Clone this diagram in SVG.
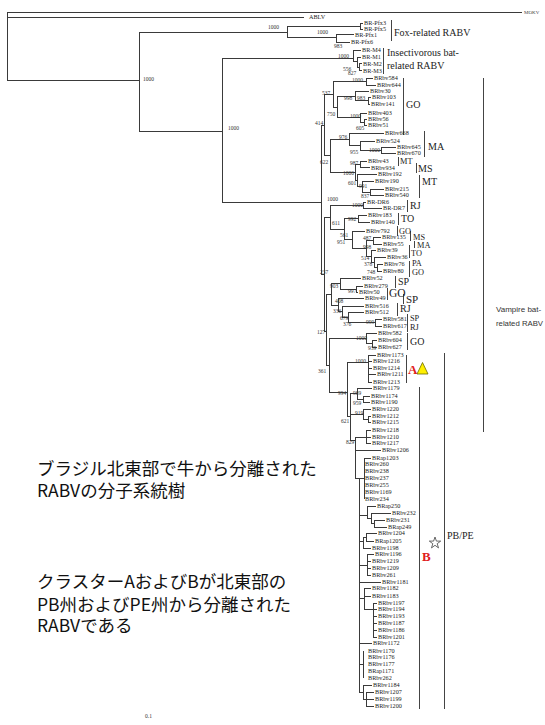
<svg xmlns="http://www.w3.org/2000/svg" width="545" height="725" viewBox="0 0 545 725">
<style>
.t{fill:none;stroke:#3a3a3a;stroke-width:1;shape-rendering:crispEdges}
.br{fill:none;stroke:#444;stroke-width:1;shape-rendering:crispEdges}
.lf{font-family:"Liberation Serif","DejaVu Serif",serif;font-size:6.2px;fill:#222}
.bs{font-family:"Liberation Serif","DejaVu Serif",serif;font-size:5.5px;fill:#333}
.cl{font-family:"Liberation Serif","DejaVu Serif",serif;font-size:10px;fill:#222}
.sm{font-size:8.3px}
.gr{font-family:"Liberation Sans","DejaVu Sans",sans-serif;font-size:8px;fill:#333}
.jp{font-family:"Noto Sans CJK JP","Noto Sans",sans-serif;font-size:17.5px;fill:#111}
.red{font-family:"Liberation Serif","DejaVu Serif",serif;font-size:13px;font-weight:bold;fill:#e02020}
</style>
<rect width="545" height="725" fill="#fff"/>
<g id="connectors">
<path class="t" d="M7 12H522M7 17H304M7 12V80M7 80H139M139 32V131
M139 32H287M287 26V37M287 26H360M360 23V29M360 23H363M360 29H363M287 37H336M336 34.5V42M336 34.5H354M336 42H350
M139 131H222M222 58V202
M222 58H353M353 50V61M353 50H361M353 61H357M357 57V67M357 57H361M357 67H359M359 63.5V70.5M359 63.5H362M359 70.5H362
M222 202H321M321 125V274
M321 125H324M324 94V155.5
M324 94H333M333 81.5V107
M333 81.5H366M366 78V85M366 78H373M366 85H376
M333 107H337M337 96V117.5
M337 96H355M355 91V100.5M355 91H369M355 100.5H368
M368 97V104M368 97H371M368 104H370
M337 117.5H360M360 113V122M360 113H367M360 122H364
M364 119V125M364 119H367M364 125H367
M324 155.5H330M330 139V172
M330 139H349M349 133V145.5M349 133H384M349 145.5H360
M360 141V150M360 141H375M360 150H381
M381 147V153M381 147H396M381 153H396
M330 172H355M355 164V180
M355 164H360M360 161V167.5M360 161H367M360 167.5H370
M355 180H357M357 174V186.5M357 174H377M357 186.5H362
M362 181V192M362 181H374M362 192H370
M370 189V195M370 189H384M370 195H384
M321 274H324M324 217V331
M324 217H330M330 205V229
M330 205H363M363 202V208M363 202H366M363 208H382
M330 229H344M344 218.5V239.5
M344 218.5H358M358 215V222M358 215H367M358 222H370
M344 239.5H352M352 231V248M352 231H365M352 248H366
M366 240.5V256M366 240.5H373M366 256H371
M373 237V244M373 237H381M373 244H382
M371 250V262M371 250H376M371 262H374
M374 257V267.5M374 257H386M374 267.5H377
M377 264V271M377 264H383M377 271H382
M324 331H326M326 294V365
M326 294H331M331 283.5V305
M331 283.5H340M340 278V289M340 278H361M340 289H356
M356 286V292M356 286H363M356 292H358
M331 305H338M338 298V311.5M338 298H364M338 311.5H342
M342 306V317M342 306H364M342 317H348
M348 312V322.5M348 312H364M348 322.5H375
M375 319V326M375 319H382M375 326H382
M326 365H329M329 338V392
M329 338H366M366 333V343.5M366 333H377M366 343.5H372
M372 340V347M372 340H377M372 347H377
M329 392H347M347 362V416
M347 362H368M368 355V382M368 355H376M368 361H372M368 368H372M368 374H376M368 382H372
M347 416H350M350 393V440M350 393H357M350 414H363M350 440H355
M357 388V399M357 388H372M357 399H363
M363 396V402M363 396H370M363 402H370
M363 409V419M363 409H371M363 419H368
M368 416V422M368 416H371M368 422H371
M355 437V478M355 437H366M355 450H381M355 478H359
M366 430V443M366 430H371M366 437H371M366 443H371
M359 478V692
M359 478H364M364 458V499M364 458H371
M359 515H367M367 506V518.5M367 506H376M367 518.5H371M371 513V523.5M371 513H391M371 523.5H374M374 520V527M374 520H385M374 527H387
M359 541H363M363 537V548M363 537H366M366 533V541M366 533H377M366 541H374M363 548H371
M359 565H367M367 554V575M367 554H374M367 561H371M367 568H371M367 575H371
M359 582H381
M359 598H364M364 588V609M364 588H371M364 596H371M364 609H373M373 603V637M373 603H377M373 609H377M373 616H377M373 623H377M373 630H377M373 637H377
M359 643H372
M359 664H363M363 651V678
M359 692H363M363 685V699M363 685H372M363 699H366M366 692V706M366 692H374M366 699H374M366 706H374"/>
</g>
<g id="brackets">
<path class="br" d="M391 20V41M383 48V74M403 78V135M424 131V157M398 157V166M416 163V173M419 175V198M407 200V212M398 213V225M397 226V236M410 231V241M414 241V248M409 245V258M409 261V269M409 268V277M395 276V288M387 288V300M403 294V304M397 303V316M407 314V324M407 323V332M407 333V350M406 355V383M419 387V709M444 353V709M483 78V432"/>
</g>
<g id="leaves">
<g id="n-MOKV"><text x="524" y="14" style="font-family:'Liberation Serif',serif;font-size:5px;fill:#444">MOKV</text></g>
<g id="n-ABLV"><text class="lf" x="309" y="19">ABLV</text></g>
<g id="n-Pfx3"><text class="lf" x="364" y="25">BR-Pfx3</text></g>
<g id="n-Pfx5"><text class="lf" x="364" y="31">BR-Pfx5</text></g>
<g id="n-Pfx1"><text class="lf" x="355" y="36.5">BR-Pfx1</text></g>
<g id="n-Pfx6"><text class="lf" x="351" y="44">BR-Pfx6</text></g>
<g id="n-M4"><text class="lf" x="362" y="52">BR-M4</text></g>
<g id="n-M1"><text class="lf" x="362" y="59">BR-M1</text></g>
<g id="n-M2"><text class="lf" x="363" y="65.5">BR-M2</text></g>
<g id="n-M3"><text class="lf" x="363" y="72.5">BR-M3</text></g>
<g id="n-584"><text class="lf" x="374" y="80">BRbv584</text></g>
<g id="n-644"><text class="lf" x="377" y="87">BRbv644</text></g>
<g id="n-30"><text class="lf" x="370" y="93">BRbv30</text></g>
<g id="n-103"><text class="lf" x="372" y="99">BRbv103</text></g>
<g id="n-141"><text class="lf" x="371" y="106">BRbv141</text></g>
<g id="n-403"><text class="lf" x="368" y="115">BRbv403</text></g>
<g id="n-56"><text class="lf" x="368" y="121">BRbv56</text></g>
<g id="n-51"><text class="lf" x="368" y="127">BRbv51</text></g>
<g id="n-668"><text class="lf" x="385" y="135">BRbv668</text></g>
<g id="n-524"><text class="lf" x="376" y="143">BRbv524</text></g>
<g id="n-645"><text class="lf" x="397" y="149">BRbv645</text></g>
<g id="n-670"><text class="lf" x="397" y="155">BRbv670</text></g>
<g id="n-43"><text class="lf" x="368" y="163">BRbv43</text></g>
<g id="n-934"><text class="lf" x="371" y="169.5">BRbv934</text></g>
<g id="n-192"><text class="lf" x="378" y="176">BRbv192</text></g>
<g id="n-190"><text class="lf" x="375" y="183">BRbv190</text></g>
<g id="n-215"><text class="lf" x="385" y="191">BRbv215</text></g>
<g id="n-540"><text class="lf" x="385" y="197">BRbv540</text></g>
<g id="n-DR6"><text class="lf" x="367" y="204">BR-DR6</text></g>
<g id="n-DR7"><text class="lf" x="383" y="210">BR-DR7</text></g>
<g id="n-183"><text class="lf" x="368" y="217">BRbv183</text></g>
<g id="n-140"><text class="lf" x="371" y="224">BRbv140</text></g>
<g id="n-792"><text class="lf" x="366" y="233">BRbv792</text></g>
<g id="n-135"><text class="lf" x="382" y="239">BRbv135</text></g>
<g id="n-55"><text class="lf" x="383" y="246">BRbv55</text></g>
<g id="n-39"><text class="lf" x="377" y="252">BRbv39</text></g>
<g id="n-36"><text class="lf" x="387" y="259">BRbv36</text></g>
<g id="n-76"><text class="lf" x="384" y="266">BRbv76</text></g>
<g id="n-80"><text class="lf" x="383" y="273">BRbv80</text></g>
<g id="n-52"><text class="lf" x="362" y="280">BRbv52</text></g>
<g id="n-279"><text class="lf" x="364" y="288">BRbv279</text></g>
<g id="n-50"><text class="lf" x="359" y="294">BRbv50</text></g>
<g id="n-49"><text class="lf" x="365" y="300">BRbv49</text></g>
<g id="n-516"><text class="lf" x="365" y="308">BRbv516</text></g>
<g id="n-512"><text class="lf" x="365" y="314">BRbv512</text></g>
<g id="n-581"><text class="lf" x="383" y="321">BRbv581</text></g>
<g id="n-617"><text class="lf" x="383" y="328">BRbv617</text></g>
<g id="n-582"><text class="lf" x="378" y="335">BRbv582</text></g>
<g id="n-604"><text class="lf" x="378" y="342">BRbv604</text></g>
<g id="n-627"><text class="lf" x="378" y="349">BRbv627</text></g>
<g id="n-1173"><text class="lf" x="377" y="357">BRbv1173</text></g>
<g id="n-1216"><text class="lf" x="373" y="363">BRbv1216</text></g>
<g id="n-1214"><text class="lf" x="373" y="370">BRbv1214</text></g>
<g id="n-1211"><text class="lf" x="377" y="376">BRbv1211</text></g>
<g id="n-1213"><text class="lf" x="373" y="384">BRbv1213</text></g>
<g id="n-1179"><text class="lf" x="373" y="390">BRbv1179</text></g>
<g id="n-1174"><text class="lf" x="371" y="398">BRbv1174</text></g>
<g id="n-1190"><text class="lf" x="371" y="404">BRbv1190</text></g>
<g id="n-1220"><text class="lf" x="372" y="411">BRbv1220</text></g>
<g id="n-1212"><text class="lf" x="372" y="418">BRbv1212</text></g>
<g id="n-1215"><text class="lf" x="372" y="424">BRbv1215</text></g>
<g id="n-1218"><text class="lf" x="372" y="432">BRbv1218</text></g>
<g id="n-1210"><text class="lf" x="372" y="439">BRbv1210</text></g>
<g id="n-1217"><text class="lf" x="372" y="445">BRbv1217</text></g>
<g id="n-1206"><text class="lf" x="382" y="452">BRbv1206</text></g>
<g id="n-1203"><text class="lf" x="372" y="460">BRap1203</text></g>
<g id="n-260"><text class="lf" x="365" y="466">BRbv260</text></g>
<g id="n-238"><text class="lf" x="365" y="473">BRbv238</text></g>
<g id="n-237"><text class="lf" x="365" y="480">BRbv237</text></g>
<g id="n-255"><text class="lf" x="365" y="487">BRbv255</text></g>
<g id="n-1169"><text class="lf" x="365" y="494">BRbv1169</text></g>
<g id="n-234"><text class="lf" x="365" y="501">BRbv234</text></g>
<g id="n-250"><text class="lf" x="377" y="508">BRap250</text></g>
<g id="n-232"><text class="lf" x="392" y="515">BRbv232</text></g>
<g id="n-231"><text class="lf" x="386" y="522">BRbv231</text></g>
<g id="n-249"><text class="lf" x="388" y="529">BRap249</text></g>
<g id="n-1204"><text class="lf" x="378" y="535">BRbv1204</text></g>
<g id="n-1205"><text class="lf" x="375" y="543">BRap1205</text></g>
<g id="n-1198"><text class="lf" x="372" y="550">BRbv1198</text></g>
<g id="n-1196"><text class="lf" x="375" y="556">BRbv1196</text></g>
<g id="n-1219"><text class="lf" x="372" y="563">BRbv1219</text></g>
<g id="n-1209"><text class="lf" x="372" y="570">BRbv1209</text></g>
<g id="n-261"><text class="lf" x="372" y="577">BRbv261</text></g>
<g id="n-1181"><text class="lf" x="382" y="584">BRbv1181</text></g>
<g id="n-1182"><text class="lf" x="372" y="590">BRbv1182</text></g>
<g id="n-1183"><text class="lf" x="372" y="598">BRbv1183</text></g>
<g id="n-1197"><text class="lf" x="378" y="605">BRbv1197</text></g>
<g id="n-1194"><text class="lf" x="378" y="611">BRbv1194</text></g>
<g id="n-1193"><text class="lf" x="378" y="618">BRbv1193</text></g>
<g id="n-1187"><text class="lf" x="378" y="625">BRbv1187</text></g>
<g id="n-1186"><text class="lf" x="378" y="632">BRbv1186</text></g>
<g id="n-1201"><text class="lf" x="378" y="639">BRbv1201</text></g>
<g id="n-1172"><text class="lf" x="373" y="645">BRbv1172</text></g>
<g id="n-1170"><text class="lf" x="368" y="653">BRbv1170</text></g>
<g id="n-1176"><text class="lf" x="368" y="659">BRbv1176</text></g>
<g id="n-1177"><text class="lf" x="368" y="666">BRbv1177</text></g>
<g id="n-1171"><text class="lf" x="368" y="673">BRap1171</text></g>
<g id="n-262"><text class="lf" x="368" y="680">BRbv262</text></g>
<g id="n-1184"><text class="lf" x="373" y="687">BRbv1184</text></g>
<g id="n-1207"><text class="lf" x="375" y="694">BRbv1207</text></g>
<g id="n-1199"><text class="lf" x="375" y="701">BRbv1199</text></g>
<g id="n-1200"><text class="lf" x="375" y="708">BRbv1200</text></g>
</g>
<g id="bootstrap">
<text class="bs" x="143" y="81">1000</text>
<text class="bs" x="228" y="130">1000</text>
<text class="bs" x="268" y="29">1000</text>
<text class="bs" x="317" y="34">1000</text>
<text class="bs" x="334" y="48">983</text>
<text class="bs" x="338" y="58">1000</text>
<text class="bs" x="343" y="71">556</text>
<text class="bs" x="348" y="75">827</text>
<text class="bs" x="352" y="82">1000</text>
<text class="bs" x="322" y="95">537</text>
<text class="bs" x="344" y="100">998</text>
<text class="bs" x="357" y="100">983</text>
<text class="bs" x="327" y="116">750</text>
<text class="bs" x="350" y="118">1000</text>
<text class="bs" x="356" y="130">605</text>
<text class="bs" x="315" y="125">414</text>
<text class="bs" x="339" y="139">976</text>
<text class="bs" x="369" y="152">1000</text>
<text class="bs" x="350" y="154">955</text>
<text class="bs" x="320" y="164">622</text>
<text class="bs" x="350" y="165">987</text>
<text class="bs" x="343" y="175">1000</text>
<text class="bs" x="348" y="185">601</text>
<text class="bs" x="359" y="188">991</text>
<text class="bs" x="361" y="198">837</text>
<text class="bs" x="327" y="201">1000</text>
<text class="bs" x="352" y="207">1000</text>
<text class="bs" x="348" y="221">992</text>
<text class="bs" x="332" y="225">611</text>
<text class="bs" x="340" y="237">561</text>
<text class="bs" x="363" y="240">487</text>
<text class="bs" x="337" y="244">951</text>
<text class="bs" x="363" y="249">998</text>
<text class="bs" x="361" y="260">514</text>
<text class="bs" x="364" y="266">378</text>
<text class="bs" x="367" y="274">748</text>
<text class="bs" x="320" y="274">237</text>
<text class="bs" x="330" y="288">903</text>
<text class="bs" x="348" y="293">997</text>
<text class="bs" x="335" y="303">408</text>
<text class="bs" x="333" y="313">336</text>
<text class="bs" x="340" y="320">679</text>
<text class="bs" x="366" y="324">999</text>
<text class="bs" x="343" y="326">376</text>
<text class="bs" x="317" y="334">127</text>
<text class="bs" x="356" y="340">1000</text>
<text class="bs" x="368" y="350">939</text>
<text class="bs" x="355" y="363">1000</text>
<text class="bs" x="318" y="373">361</text>
<text class="bs" x="338" y="395">994</text>
<text class="bs" x="353" y="395">989</text>
<text class="bs" x="353" y="405">959</text>
<text class="bs" x="355" y="415">919</text>
<text class="bs" x="341" y="423">621</text>
<text class="bs" x="346" y="444">829</text>
<text class="bs" x="145" y="718">0.1</text>
</g>
<g id="clade-labels">
<g id="c-fox"><text class="cl" x="394" y="36">Fox-related RABV</text></g>
<g id="c-insect"><text class="cl" x="387" y="56">Insectivorous bat-</text><text class="cl" x="387" y="69">related RABV</text></g>
<g id="c-go1"><text class="cl" x="406" y="108">GO</text></g>
<g id="c-ma1"><text class="cl" x="428" y="150">MA</text></g>
<g id="c-mt1"><text class="cl sm" x="400" y="164">MT</text></g>
<g id="c-ms1"><text class="cl" x="418" y="172">MS</text></g>
<g id="c-mt2"><text class="cl" x="422" y="185">MT</text></g>
<g id="c-rj1"><text class="cl" x="410" y="209">RJ</text></g>
<g id="c-to1"><text class="cl" x="401" y="222">TO</text></g>
<g id="c-go2"><text class="cl sm" x="399" y="234">GO</text></g>
<g id="c-ms2"><text class="cl sm" x="413" y="240">MS</text></g>
<g id="c-ma2"><text class="cl sm" x="417" y="248">MA</text></g>
<g id="c-to2"><text class="cl sm" x="411" y="256">TO</text></g>
<g id="c-pa"><text class="cl sm" x="412" y="266">PA</text></g>
<g id="c-go3"><text class="cl sm" x="412" y="275">GO</text></g>
<g id="c-sp1"><text class="cl" x="398" y="285">SP</text></g>
<g id="c-go4"><text class="cl" x="389" y="297" style="font-size:11.5px">GO</text></g>
<g id="c-sp2"><text class="cl" x="406" y="303" style="font-size:11px">SP</text></g>
<g id="c-rj2"><text class="cl" x="400" y="312">RJ</text></g>
<g id="c-sp3"><text class="cl sm" x="410" y="321">SP</text></g>
<g id="c-rj3"><text class="cl sm" x="410" y="330">RJ</text></g>
<g id="c-go5"><text class="cl" x="410" y="345">GO</text></g>
<g id="c-A"><text class="red" x="408" y="374">A</text><polygon points="417,374 428,374 422.5,362.5" fill="#ffef00" stroke="#6b6b00" stroke-width="0.8"/></g>
<g id="c-B"><text class="red" x="422" y="561">B</text><polygon points="435,537 436.4,541.1 440.7,541.1 437.2,543.7 438.5,547.9 435,545.3 431.5,547.9 432.8,543.7 429.3,541.1 433.6,541.1" fill="#fff" stroke="#444" stroke-width="0.8"/></g>
<g id="c-pbpe"><text class="cl" x="447" y="539">PB/PE</text></g>
<g id="c-vampire"><text class="gr" x="496" y="312">Vampire bat-</text><text class="gr" x="496" y="326" textLength="47" lengthAdjust="spacingAndGlyphs">related RABV</text></g>
</g>
<g id="notes">
<text class="jp" x="37" y="475">ブラジル北東部で牛から分離された</text>
<text class="jp" x="37" y="497">RABVの分子系統樹</text>
<text class="jp" x="37" y="588">クラスターAおよびBが北東部の</text>
<text class="jp" x="37" y="611">PB州およびPE州から分離された</text>
<text class="jp" x="37" y="632">RABVである</text>
</g>
</svg>
